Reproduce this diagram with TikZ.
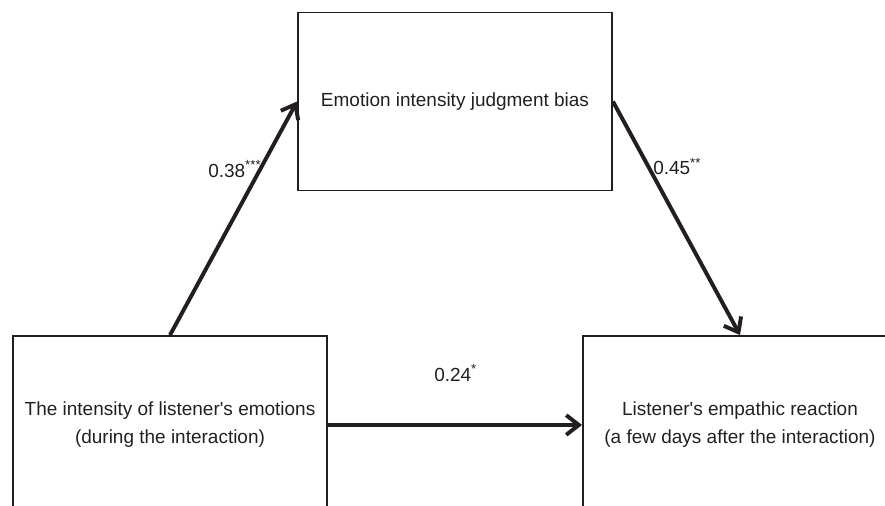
\documentclass[tikz,border=0pt]{standalone}
\usepackage{fontspec}
\setmainfont{Liberation Sans}
\usepackage{xcolor}
\definecolor{inkgray}{RGB}{35,31,32}
\usetikzlibrary{arrows.meta,positioning}

\begin{document}
\begin{tikzpicture}[x=0.025cm,y=-0.025cm,
  box/.style={draw=inkgray,line width=1.3pt,minimum width=7.85cm,minimum height=4.45cm,
    align=center,text=inkgray,font=\fontsize{13.5}{20}\selectfont},
  coef/.style={anchor=base west,inner sep=0pt,text=inkgray,font=\fontsize{13.5}{16}\selectfont},
  effect/.style={-{Straight Barb[length=9pt,width=14pt]},draw=inkgray,line width=2.8pt}]
  \useasboundingbox (0,0) rectangle (885,505);
  \clip (0,0) rectangle (885,505);
  \node[box] (bias) at (455,101.5) {Emotion intensity judgment bias};
  \node[box] (intensity) at (170,425) {The intensity of listener\textquotesingle s emotions\\(during the interaction)};
  \node[box] (reaction) at (740,425) {Listener\textquotesingle s empathic reaction\\ (a few days after the interaction)};
  \draw[effect] (intensity.north) -- (bias.west);
  \draw[effect] (bias.east) -- (reaction.north);
  \draw[effect] (intensity.east) -- (reaction.west);
  \node[coef] (a) at (208,177) {0.38\textsuperscript{***}};
  \node[coef] (b) at (653,175) {0.45\textsuperscript{**}};
  \node[coef] (c) at (434,381) {0.24\textsuperscript{*}};
\end{tikzpicture}
\end{document}
